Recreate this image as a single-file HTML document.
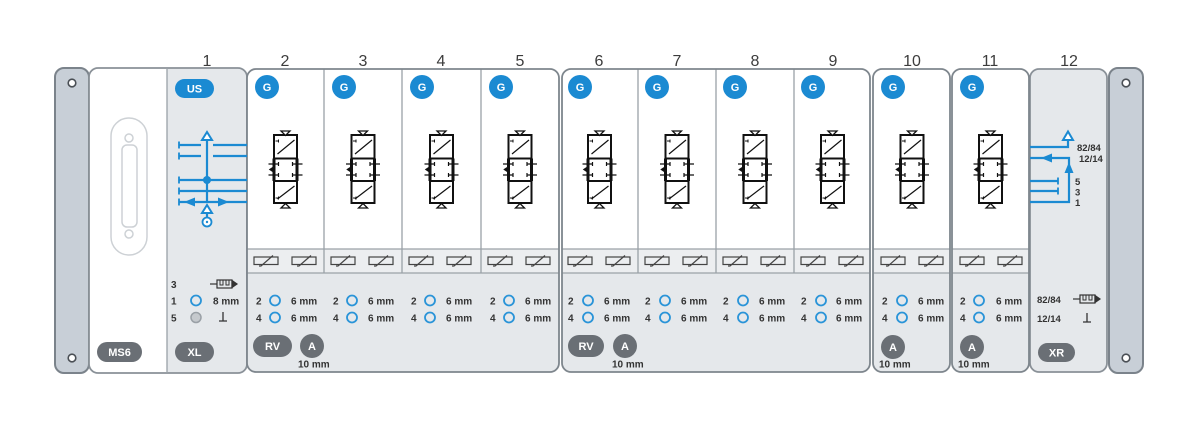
<!DOCTYPE html>
<html><head><meta charset="utf-8"><style>
html,body{margin:0;padding:0;background:#fff;}
svg{display:block;}
text{font-family:"Liberation Sans",sans-serif;}
.n{font-size:16px;fill:#3c3c3c;text-anchor:middle;}
.t{font-size:10px;font-weight:bold;fill:#333;}
.b{font-size:11px;font-weight:bold;fill:#fff;text-anchor:middle;}
.bl{fill:none;stroke:#1b8ad2;stroke-width:2.2;}
</style></head><body>
<svg width="1200" height="433" viewBox="0 0 1200 433" xmlns="http://www.w3.org/2000/svg">
<defs>
 <clipPath id="c1"><rect x="247" y="69" width="312" height="303" rx="9"/></clipPath>
 <clipPath id="c2"><rect x="562" y="69" width="308" height="303" rx="9"/></clipPath>
 <clipPath id="c3"><rect x="873" y="69" width="77" height="303" rx="9"/></clipPath>
 <clipPath id="c4"><rect x="952" y="69" width="77" height="303" rx="9"/></clipPath>
 <g id="valve" fill="none" stroke="#111">
  <rect x="-11.5" y="135" width="23" height="68" fill="#fff" stroke-width="2"/>
  <line x1="-11.5" y1="158.5" x2="11.5" y2="158.5" stroke-width="2"/>
  <line x1="-11.5" y1="181" x2="11.5" y2="181" stroke-width="2"/>
  <line x1="-11.5" y1="158.5" x2="-11.5" y2="181" stroke-width="3"/>
  <line x1="11.5" y1="158.5" x2="11.5" y2="181" stroke-width="3"/>
  <line x1="-8" y1="154" x2="9" y2="140" stroke-width="1.2"/>
  <line x1="-8" y1="199" x2="9" y2="186" stroke-width="1.2"/>
  <path d="M-10 141h3 M-7 139.5v3 M-10 198h3 M-7 196.5v3" stroke-width="1"/>
  <path d="M-17 164h10 M-7 162v4 M-17 175h10 M-7 173v4" stroke-width="1.2"/>
  <path d="M17 164h-10 M7 162v4 M17 175h-10 M7 173v4" stroke-width="1.2"/>
  <path d="M-16 169.5l3-2v4z" fill="#111" stroke-width="0.8"/>
  <path d="M-4.5 131h9l-4.5 4.5z" stroke-width="1.3" fill="#fff"/>
  <path d="M-4.5 208h9l-4.5-4.5z" stroke-width="1.3" fill="#fff"/>
 </g>
 <g id="sol" fill="none" stroke="#444" stroke-width="1.2">
  <rect x="0" y="257" width="24" height="7.5"/>
  <path d="M5 266h2 L19 255.5"/>
 </g>
 <g id="muf" fill="none" stroke="#333" stroke-width="1.2">
  <path d="M0 0h7"/>
  <rect x="7" y="-4" width="15" height="8"/>
  <path d="M10 -4v5h3v-5 M16 -4v5h3v-5" stroke-width="1"/>
  <path d="M22 -3.5l5 3.5-5 3.5z" fill="#333"/>
 </g>
 <g id="gnd" fill="none" stroke="#333" stroke-width="1.3">
  <path d="M0 -5v9 M-4 4h8"/>
 </g>
</defs>

<!-- top numbers -->
<text class="n" x="207" y="66">1</text>
<text class="n" x="285" y="66">2</text>
<text class="n" x="363" y="66">3</text>
<text class="n" x="441" y="66">4</text>
<text class="n" x="520" y="66">5</text>
<text class="n" x="599" y="66">6</text>
<text class="n" x="677" y="66">7</text>
<text class="n" x="755" y="66">8</text>
<text class="n" x="833" y="66">9</text>
<text class="n" x="912" y="66">10</text>
<text class="n" x="990" y="66">11</text>
<text class="n" x="1069" y="66">12</text>

<!-- left end plate -->
<rect x="55" y="68" width="34" height="305" rx="9" fill="#c8cfd7" stroke="#7b838b" stroke-width="2"/>
<circle cx="72" cy="83" r="3.8" fill="#fff" stroke="#4a4f55" stroke-width="1.6"/>
<circle cx="72" cy="358" r="3.8" fill="#fff" stroke="#4a4f55" stroke-width="1.6"/>

<!-- right end plate -->
<rect x="1109" y="68" width="34" height="305" rx="9" fill="#c8cfd7" stroke="#7b838b" stroke-width="2"/>
<circle cx="1126" cy="83" r="3.8" fill="#fff" stroke="#4a4f55" stroke-width="1.6"/>
<circle cx="1126" cy="358" r="3.8" fill="#fff" stroke="#4a4f55" stroke-width="1.6"/>

<!-- MS6 + XL block -->
<path d="M167 68H98A9 9 0 0 0 89 77V364A9 9 0 0 0 98 373H167Z" fill="#fff"/>
<path d="M167 68H238A9 9 0 0 1 247 77V364A9 9 0 0 1 238 373H167Z" fill="#e5e8eb"/>
<rect x="89" y="68" width="158" height="305" rx="9" fill="none" stroke="#8a9198" stroke-width="1.8"/>
<line x1="167" y1="68" x2="167" y2="373" stroke="#9aa1a7" stroke-width="1.3"/>

<!-- MS6 connector -->
<rect x="111" y="118" width="36" height="137" rx="18" fill="none" stroke="#cdd1d5" stroke-width="1.5"/>
<rect x="122" y="145" width="15" height="82" rx="5" fill="none" stroke="#cdd1d5" stroke-width="1.5"/>
<circle cx="129" cy="138" r="4" fill="none" stroke="#cdd1d5" stroke-width="1.5"/>
<circle cx="129" cy="234" r="4" fill="none" stroke="#cdd1d5" stroke-width="1.5"/>
<rect x="97" y="342" width="45" height="20" rx="10" fill="#6a6f75"/>
<text class="b" x="119.5" y="356">MS6</text>

<!-- XL -->
<rect x="175" y="79" width="39" height="19" rx="9.5" fill="#1b8ad2"/>
<text class="b" x="194.5" y="92.5">US</text>
<rect x="175" y="342" width="39" height="20" rx="10" fill="#6a6f75"/>
<text class="b" x="194.5" y="356">XL</text>
<text class="t" x="171" y="288">3</text>
<text class="t" x="171" y="304.5">1</text>
<text class="t" x="171" y="321.5">5</text>
<circle cx="196" cy="300.5" r="5" fill="none" stroke="#2a94d8" stroke-width="1.8"/>
<circle cx="196" cy="317.5" r="5" fill="#c5c9cd" stroke="#9aa0a6" stroke-width="1.5"/>
<text class="t" x="213" y="304.5">8 mm</text>
<use href="#muf" x="210" y="284"/>
<use href="#gnd" x="223" y="317"/>

<!-- groups fills -->
<g clip-path="url(#c1)">
 <rect x="247" y="69" width="312" height="180" fill="#fff"/>
 <rect x="247" y="249" width="312" height="24" fill="#eceef0"/>
 <rect x="247" y="273" width="312" height="100" fill="#e5e8eb"/>
</g>
<g clip-path="url(#c2)">
 <rect x="562" y="69" width="308" height="180" fill="#fff"/>
 <rect x="562" y="249" width="308" height="24" fill="#eceef0"/>
 <rect x="562" y="273" width="308" height="100" fill="#e5e8eb"/>
</g>
<g clip-path="url(#c3)">
 <rect x="873" y="69" width="77" height="180" fill="#fff"/>
 <rect x="873" y="249" width="77" height="24" fill="#eceef0"/>
 <rect x="873" y="273" width="77" height="100" fill="#e5e8eb"/>
</g>
<g clip-path="url(#c4)">
 <rect x="952" y="69" width="77" height="180" fill="#fff"/>
 <rect x="952" y="249" width="77" height="24" fill="#eceef0"/>
 <rect x="952" y="273" width="77" height="100" fill="#e5e8eb"/>
</g>

<!-- XR -->
<rect x="1030" y="69" width="77" height="303" rx="9" fill="#e5e8eb" stroke="#8a9198" stroke-width="1.8"/>

<!-- internal lines -->
<g stroke="#9aa1a7" stroke-width="1.3">
 <line x1="247" y1="249" x2="559" y2="249"/><line x1="247" y1="273" x2="559" y2="273"/>
 <line x1="562" y1="249" x2="870" y2="249"/><line x1="562" y1="273" x2="870" y2="273"/>
 <line x1="873" y1="249" x2="950" y2="249"/><line x1="873" y1="273" x2="950" y2="273"/>
 <line x1="952" y1="249" x2="1029" y2="249"/><line x1="952" y1="273" x2="1029" y2="273"/>
 <line x1="324" y1="69" x2="324" y2="273"/><line x1="402" y1="69" x2="402" y2="273"/><line x1="481" y1="69" x2="481" y2="273"/>
 <line x1="638" y1="69" x2="638" y2="273"/><line x1="716" y1="69" x2="716" y2="273"/><line x1="794" y1="69" x2="794" y2="273"/>
</g>

<!-- outlines -->
<g fill="none" stroke="#7e868d" stroke-width="1.8">
 <rect x="247" y="69" width="312" height="303" rx="9"/>
 <rect x="562" y="69" width="308" height="303" rx="9"/>
 <rect x="873" y="69" width="77" height="303" rx="9"/>
 <rect x="952" y="69" width="77" height="303" rx="9"/>
</g>

<!-- US pneumatic lines -->
<g class="bl">
 <path d="M207 140V202"/>
 <path d="M179 145H201M213 145H247M179 156H201M213 156H247M179 180H247M179 191H247M179 202H247"/>
 <path d="M179 141.5v7M179 152.5v7M179 176.5v7M179 187.5v7M179 198.5v7" stroke-width="1.8"/>
 <path d="M202 140h10l-5-8z" fill="#fff" stroke-width="2"/>
 <path d="M202 213h10l-5-8z" fill="#fff" stroke-width="2"/>
 <path d="M207 213v4"/>
 <circle cx="207" cy="222" r="4.5" fill="#fff" stroke-width="1.8"/>
</g>
<circle cx="207" cy="222" r="1.2" fill="#1b8ad2"/>
<circle cx="207" cy="180" r="4" fill="#1b8ad2"/>
<path d="M184 202l11-4.5v9z" fill="#1b8ad2"/>
<path d="M229 202l-11-4.5v9z" fill="#1b8ad2"/>

<!-- XR pneumatic lines -->
<g class="bl">
 <path d="M1030 147H1068V140"/>
 <path d="M1030 158H1069V202H1030"/>
 <path d="M1030 181H1058M1030 191H1058"/>
 <path d="M1058 177.5v7M1058 187.5v7" stroke-width="1.8"/>
 <path d="M1063 140h10l-5-8.5z" fill="#fff" stroke-width="2"/>
</g>
<path d="M1041 158l11-4.5v9z" fill="#1b8ad2"/>
<path d="M1069 162l-4.5 11h9z" fill="#1b8ad2"/>
<text class="t" x="1077" y="151" style="font-size:9.5px">82/84</text>
<text class="t" x="1079" y="162" style="font-size:9.5px">12/14</text>
<text class="t" x="1075" y="185" style="font-size:9.5px">5</text>
<text class="t" x="1075" y="195.5" style="font-size:9.5px">3</text>
<text class="t" x="1075" y="206" style="font-size:9.5px">1</text>
<text class="t" x="1037" y="303" style="font-size:9.5px">82/84</text>
<text class="t" x="1037" y="322" style="font-size:9.5px">12/14</text>
<use href="#muf" x="1073" y="299"/>
<use href="#gnd" x="1087" y="318"/>
<rect x="1038" y="343" width="37" height="19" rx="9.5" fill="#6a6f75"/>
<text class="b" x="1056.5" y="356.5">XR</text>

<!-- G badges -->
<g fill="#1b8ad2">
 <circle cx="267" cy="87" r="12"/><circle cx="344" cy="87" r="12"/><circle cx="422" cy="87" r="12"/><circle cx="501" cy="87" r="12"/>
 <circle cx="580" cy="87" r="12"/><circle cx="657" cy="87" r="12"/><circle cx="735" cy="87" r="12"/><circle cx="813" cy="87" r="12"/>
 <circle cx="893" cy="87" r="12"/><circle cx="972" cy="87" r="12"/>
</g>
<g class="b">
 <text class="b" x="267" y="91">G</text><text class="b" x="344" y="91">G</text><text class="b" x="422" y="91">G</text><text class="b" x="501" y="91">G</text>
 <text class="b" x="580" y="91">G</text><text class="b" x="657" y="91">G</text><text class="b" x="735" y="91">G</text><text class="b" x="813" y="91">G</text>
 <text class="b" x="893" y="91">G</text><text class="b" x="972" y="91">G</text>
</g>

<!-- valves -->
<use href="#valve" x="285.5"/><use href="#valve" x="363"/><use href="#valve" x="441.5"/><use href="#valve" x="520"/>
<use href="#valve" x="599.5"/><use href="#valve" x="677"/><use href="#valve" x="755"/><use href="#valve" x="832.5"/>
<use href="#valve" x="912"/><use href="#valve" x="990.5"/>

<!-- solenoids -->
<use href="#sol" x="254"/><use href="#sol" x="292"/>
<use href="#sol" x="331"/><use href="#sol" x="369"/>
<use href="#sol" x="409"/><use href="#sol" x="447"/>
<use href="#sol" x="488"/><use href="#sol" x="526"/>
<use href="#sol" x="568"/><use href="#sol" x="606"/>
<use href="#sol" x="645"/><use href="#sol" x="683"/>
<use href="#sol" x="723"/><use href="#sol" x="761"/>
<use href="#sol" x="801"/><use href="#sol" x="839"/>
<use href="#sol" x="881"/><use href="#sol" x="919"/>
<use href="#sol" x="960"/><use href="#sol" x="998"/>

<!-- port rows -->
<g>
 <text class="t" x="256" y="304.5">2</text><text class="t" x="256" y="321.5">4</text><text class="t" x="291" y="304.5">6 mm</text><text class="t" x="291" y="321.5">6 mm</text>
 <text class="t" x="333" y="304.5">2</text><text class="t" x="333" y="321.5">4</text><text class="t" x="368" y="304.5">6 mm</text><text class="t" x="368" y="321.5">6 mm</text>
 <text class="t" x="411" y="304.5">2</text><text class="t" x="411" y="321.5">4</text><text class="t" x="446" y="304.5">6 mm</text><text class="t" x="446" y="321.5">6 mm</text>
 <text class="t" x="490" y="304.5">2</text><text class="t" x="490" y="321.5">4</text><text class="t" x="525" y="304.5">6 mm</text><text class="t" x="525" y="321.5">6 mm</text>
 <text class="t" x="568" y="304.5">2</text><text class="t" x="568" y="321.5">4</text><text class="t" x="604" y="304.5">6 mm</text><text class="t" x="604" y="321.5">6 mm</text>
 <text class="t" x="645" y="304.5">2</text><text class="t" x="645" y="321.5">4</text><text class="t" x="681" y="304.5">6 mm</text><text class="t" x="681" y="321.5">6 mm</text>
 <text class="t" x="723" y="304.5">2</text><text class="t" x="723" y="321.5">4</text><text class="t" x="759" y="304.5">6 mm</text><text class="t" x="759" y="321.5">6 mm</text>
 <text class="t" x="801" y="304.5">2</text><text class="t" x="801" y="321.5">4</text><text class="t" x="836" y="304.5">6 mm</text><text class="t" x="836" y="321.5">6 mm</text>
 <text class="t" x="882" y="304.5">2</text><text class="t" x="882" y="321.5">4</text><text class="t" x="918" y="304.5">6 mm</text><text class="t" x="918" y="321.5">6 mm</text>
 <text class="t" x="960" y="304.5">2</text><text class="t" x="960" y="321.5">4</text><text class="t" x="996" y="304.5">6 mm</text><text class="t" x="996" y="321.5">6 mm</text>
</g>
<g fill="none" stroke="#2a94d8" stroke-width="1.8">
 <circle cx="275" cy="300.5" r="5"/><circle cx="275" cy="317.5" r="5"/>
 <circle cx="352" cy="300.5" r="5"/><circle cx="352" cy="317.5" r="5"/>
 <circle cx="430" cy="300.5" r="5"/><circle cx="430" cy="317.5" r="5"/>
 <circle cx="509" cy="300.5" r="5"/><circle cx="509" cy="317.5" r="5"/>
 <circle cx="588" cy="300.5" r="5"/><circle cx="588" cy="317.5" r="5"/>
 <circle cx="665" cy="300.5" r="5"/><circle cx="665" cy="317.5" r="5"/>
 <circle cx="743" cy="300.5" r="5"/><circle cx="743" cy="317.5" r="5"/>
 <circle cx="821" cy="300.5" r="5"/><circle cx="821" cy="317.5" r="5"/>
 <circle cx="902" cy="300.5" r="5"/><circle cx="902" cy="317.5" r="5"/>
 <circle cx="979" cy="300.5" r="5"/><circle cx="979" cy="317.5" r="5"/>
</g>

<!-- RV / A badges -->
<g fill="#6a6f75">
 <rect x="253" y="335" width="39" height="22" rx="11"/>
 <circle cx="312" cy="346" r="12"/>
 <rect x="568" y="335" width="36" height="22" rx="11"/>
 <circle cx="625" cy="346" r="12"/>
 <circle cx="893" cy="347" r="12"/>
 <circle cx="972" cy="347" r="12"/>
</g>
<text class="b" x="272.5" y="350">RV</text>
<text class="b" x="312" y="350">A</text>
<text class="b" x="586" y="350">RV</text>
<text class="b" x="625" y="350">A</text>
<text class="b" x="893" y="351">A</text>
<text class="b" x="972" y="351">A</text>
<text class="t" x="298" y="367.5">10 mm</text>
<text class="t" x="612" y="367.5">10 mm</text>
<text class="t" x="879" y="367.5">10 mm</text>
<text class="t" x="958" y="367.5">10 mm</text>
</svg>
</body></html>
